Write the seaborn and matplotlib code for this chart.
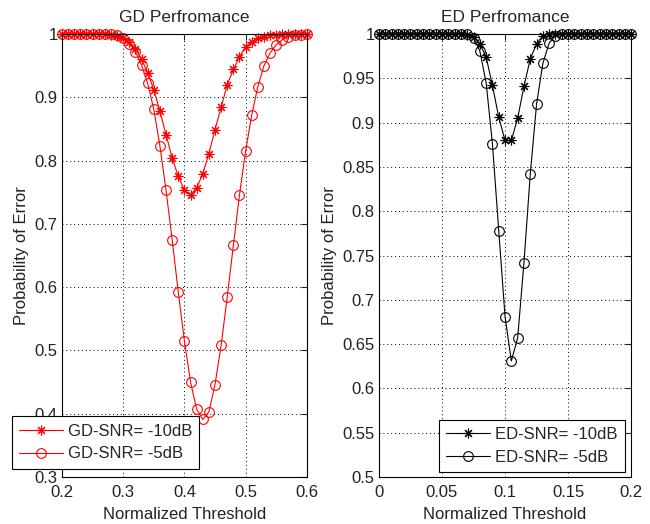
import numpy as np
import pandas as pd
import seaborn as sns
import matplotlib.pyplot as plt
from matplotlib.ticker import FuncFormatter

# --- data ---
gd_thr = [0.20, 0.21, 0.22, 0.23, 0.24, 0.25, 0.26, 0.27, 0.28, 0.29,
          0.30, 0.31, 0.32, 0.33, 0.34, 0.35, 0.36, 0.37, 0.38, 0.39,
          0.40, 0.41, 0.42, 0.43, 0.44, 0.45, 0.46, 0.47, 0.48, 0.49,
          0.50, 0.51, 0.52, 0.53, 0.54, 0.55, 0.56, 0.57, 0.58, 0.59, 0.60]
gd_m10 = [1.0, 1.0, 1.0, 1.0, 1.0, 1.0, 1.0, 1.0, 0.999, 0.997,
          0.993, 0.987, 0.977, 0.960, 0.939, 0.912, 0.878, 0.841, 0.804, 0.775,
          0.753, 0.746, 0.757, 0.779, 0.811, 0.849, 0.884, 0.920, 0.944, 0.964,
          0.980, 0.988, 0.993, 0.996, 0.998, 0.999, 1.0, 1.0, 1.0, 1.0, 1.0]
gd_m5 = [1.0, 1.0, 1.0, 1.0, 1.0, 1.0, 1.0, 1.0, 1.0, 0.998,
         0.993, 0.985, 0.972, 0.951, 0.922, 0.881, 0.823, 0.753, 0.675, 0.592,
         0.515, 0.450, 0.407, 0.391, 0.403, 0.446, 0.508, 0.585, 0.666, 0.746,
         0.815, 0.872, 0.917, 0.950, 0.970, 0.983, 0.991, 0.996, 0.998, 0.999, 1.0]

ed_thr = [0.000, 0.005, 0.010, 0.015, 0.020, 0.025, 0.030, 0.035, 0.040, 0.045,
          0.050, 0.055, 0.060, 0.065, 0.070, 0.075, 0.080, 0.085, 0.090, 0.095,
          0.100, 0.105, 0.110, 0.115, 0.120, 0.125, 0.130, 0.135, 0.140, 0.145,
          0.150, 0.155, 0.160, 0.165, 0.170, 0.175, 0.180, 0.185, 0.190, 0.195, 0.200]
ed_m10 = [1.0, 1.0, 1.0, 1.0, 1.0, 1.0, 1.0, 1.0, 1.0, 1.0,
          1.0, 1.0, 1.0, 1.0, 0.999, 0.997, 0.989, 0.974, 0.942, 0.906,
          0.880, 0.880, 0.905, 0.941, 0.972, 0.989, 0.998, 1.0, 1.0, 1.0,
          1.0, 1.0, 1.0, 1.0, 1.0, 1.0, 1.0, 1.0, 1.0, 1.0, 1.0]
ed_m5 = [1.0, 1.0, 1.0, 1.0, 1.0, 1.0, 1.0, 1.0, 1.0, 1.0,
         1.0, 1.0, 1.0, 1.0, 1.0, 0.996, 0.981, 0.945, 0.876, 0.778,
         0.681, 0.631, 0.657, 0.742, 0.842, 0.921, 0.967, 0.990, 0.998, 1.0,
         1.0, 1.0, 1.0, 1.0, 1.0, 1.0, 1.0, 1.0, 1.0, 1.0, 1.0]

gd_labels = ['GD-SNR= -10dB', 'GD-SNR= -5dB']
ed_labels = ['ED-SNR= -10dB', 'ED-SNR= -5dB']

sns.set_style("white")
plt.rcParams['font.family'] = ['Liberation Sans', 'DejaVu Sans']
plt.rcParams['font.size'] = 12

star = (8, 2, 0)  # matlab-like asterisk

fig = plt.figure(figsize=(6.5, 5.24), dpi=100)
ax1 = fig.add_axes([0.0954, 0.0897, 0.3766, 0.8453])
ax2 = fig.add_axes([0.583, 0.0897, 0.388, 0.8453])


def draw(ax, x, ys, labels, color):
    sns.lineplot(x=x, y=ys[0], ax=ax, color=color, lw=0.8, marker=star,
                 markersize=7, mew=0.8, mec=color, clip_on=False,
                 label=labels[0])
    sns.lineplot(x=x, y=ys[1], ax=ax, color=color, lw=0.8, marker='o',
                 markersize=7, mfc='none', mew=0.8, mec=color, clip_on=False,
                 label=labels[1])


draw(ax1, gd_thr, [gd_m10, gd_m5], gd_labels, 'red')
draw(ax2, ed_thr, [ed_m10, ed_m5], ed_labels, 'black')

fmt = FuncFormatter(lambda v, p: '%g' % round(v, 3))
for ax in (ax1, ax2):
    ax.grid(True, color='black', linestyle=(0, (1, 3)), linewidth=0.7)
    ax.tick_params(direction='in', top=True, right=True, length=4,
                   labelsize=12, colors='#222222')
    ax.tick_params(axis='x', pad=6)
    ax.tick_params(axis='y', pad=3)
    ax.xaxis.set_major_formatter(fmt)
    ax.yaxis.set_major_formatter(fmt)
    for s in ax.spines.values():
        s.set_color('black')
        s.set_linewidth(0.8)
    ax.set_xlabel('Normalized Threshold', fontsize=12, labelpad=5, color='#222222')
    ax.set_ylabel('Probability of Error', fontsize=12, labelpad=4, color='#222222')

ax1.set_xlim(0.2, 0.6)
ax1.set_ylim(0.3, 1.0)
ax1.set_xticks(np.arange(0.2, 0.61, 0.1))
ax1.set_yticks(np.arange(0.3, 1.01, 0.1))
ax1.set_title('GD Perfromance', fontsize=12.5, pad=9)

ax2.set_xlim(0, 0.2)
ax2.set_ylim(0.5, 1.0)
ax2.set_xticks(np.arange(0, 0.201, 0.05))
ax2.set_yticks(np.arange(0.5, 1.001, 0.05))
ax2.set_title('ED Perfromance', fontsize=12.5, pad=9)

leg_kw = dict(loc='lower left', bbox_transform=fig.transFigure, fancybox=False,
              edgecolor='black', framealpha=1, fontsize=12, handlelength=2.6,
              handletextpad=0.3, labelspacing=0.45, borderpad=0.45,
              borderaxespad=0)
l1 = ax1.legend(bbox_to_anchor=(0.018, 0.105), **leg_kw)
l2 = ax2.legend(bbox_to_anchor=(0.675, 0.099), **leg_kw)
for l in (l1, l2):
    l.get_frame().set_linewidth(0.8)

fig.savefig('out.png', dpi=100)
